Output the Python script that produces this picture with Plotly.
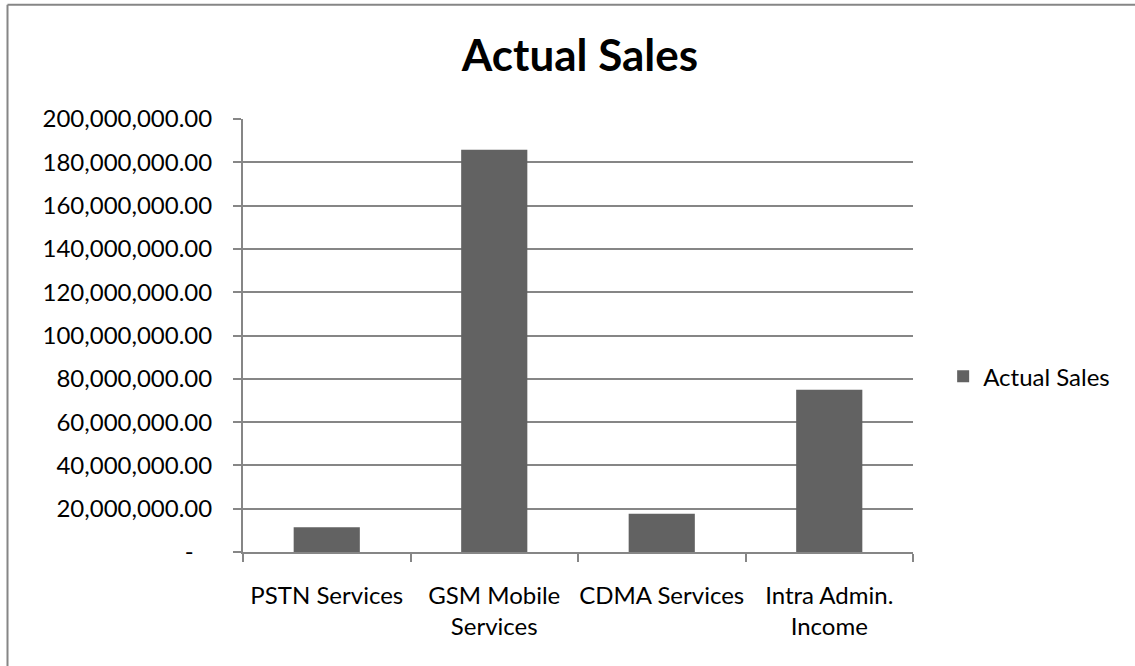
import plotly.graph_objects as go

categories = ["PSTN Services", "GSM Mobile<br>Services", "CDMA Services", "Intra Admin.<br>Income"]
actual_sales = [11400000, 185800000, 17700000, 75000000]
tick_values = [0, 20e6, 40e6, 60e6, 80e6, 100e6, 120e6, 140e6, 160e6, 180e6, 200e6]
tick_labels = ["-\u00a0\u00a0\u00a0", "20,000,000.00", "40,000,000.00", "60,000,000.00", "80,000,000.00",
               "100,000,000.00", "120,000,000.00", "140,000,000.00", "160,000,000.00",
               "180,000,000.00", "200,000,000.00"]

AX = "#868686"
FONT = "Lato, 'Open Sans', Arial, sans-serif"

BX0 = (7.5 - 243) / 670
BY1 = (552.3 - 5) / 433

fig = go.Figure()
fig.add_trace(go.Bar(x=categories, y=actual_sales, name="Actual Sales",
                     marker=dict(color="#626262", line=dict(width=0)),
                     showlegend=True))

fig.update_layout(
    width=1135, height=666,
    margin=dict(l=243, r=222, t=119, b=114, autoexpand=False),
    paper_bgcolor="white", plot_bgcolor="white",
    bargap=0.605,
    font=dict(family=FONT, size=24, color="black"),
    title=dict(text="<b>Actual Sales</b>", x=580/1135, xref="container", xanchor="center",
               y=1 - 56/666, yref="container", yanchor="middle",
               font=dict(family=FONT, size=44, color="black")),
    showlegend=True,
    legend=dict(x=1.045, y=0.405, xanchor="left", yanchor="middle",
                font=dict(family=FONT, size=24, color="black"),
                bgcolor="rgba(0,0,0,0)"),
    xaxis=dict(type="category", showline=True, linecolor=AX, linewidth=2,
               ticks="outside", ticklen=8, tickcolor=AX, tickwidth=2,
               tickson="boundaries", showgrid=False, tickangle=0, automargin=False,
               tickfont=dict(family=FONT, size=24, color="black"),
               ticklabelstandoff=21),
    yaxis=dict(range=[0, 200e6], tickvals=tick_values, ticktext=tick_labels,
               showline=True, linecolor=AX, linewidth=2, automargin=False,
               ticks="outside", ticklen=8, tickcolor=AX, tickwidth=2,
               showgrid=True, gridcolor=AX, gridwidth=2, zeroline=False,
               tickfont=dict(family=FONT, size=24, color="black"),
               ticklabelstandoff=16),
    shapes=[
        dict(type="line", xref="paper", yref="paper", x0=BX0, x1=1.5, y0=BY1, y1=BY1,
             line=dict(color=AX, width=2), layer="below"),
        dict(type="line", xref="paper", yref="paper", x0=BX0, x1=BX0, y0=-0.5, y1=BY1,
             line=dict(color=AX, width=2), layer="below"),
    ],
)

fig.write_html("out.html", config={"displayModeBar": False},
               post_script="document.body.style.margin='0';document.body.style.overflow='hidden';"
                           "document.documentElement.style.overflow='hidden';")
